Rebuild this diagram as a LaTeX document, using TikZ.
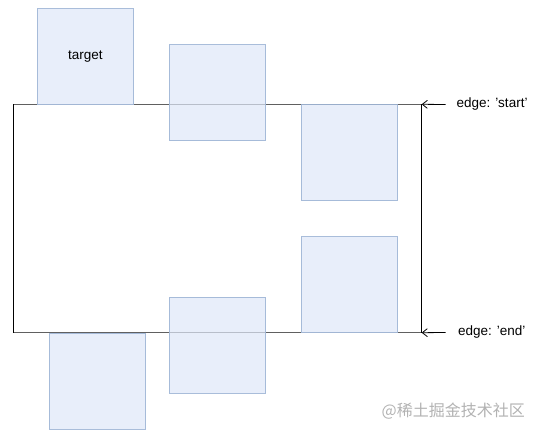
\documentclass[tikz,border=0pt]{standalone}
\usepackage{fontspec}
\setmainfont{Liberation Sans}
\newfontfamily\cjk{Noto Sans CJK SC}
\usetikzlibrary{arrows.meta}
\definecolor{boxfill}{RGB}{222,231,248}
\definecolor{boxline}{RGB}{160,182,214}
\definecolor{edgegray}{RGB}{96,96,96}
\tikzset{
  itembox/.style={draw=boxline, fill=boxfill, fill opacity=0.7, draw opacity=0.9, text opacity=1,
    minimum width=96.5pt, minimum height=96pt, inner sep=0pt, line width=0.8pt, font=\fontsize{13.5}{16}\selectfont},
  lbl/.style={anchor=west, inner sep=0pt, font=\fontsize{13.5}{16}\selectfont},
  ptr/.style={-{Straight Barb[length=5pt,width=8pt]}, line width=0.8pt}
}
\begin{document}
\begin{tikzpicture}[x=1pt,y=-1pt]
\useasboundingbox (0,0) rectangle (540,435);
% container
\node[minimum width=408pt, minimum height=228pt, inner sep=0pt] (cont) at (217.5,218.5) {};
\draw[line width=1.3pt, edgegray] (cont.north west) -- (cont.north east);
\draw[line width=1.3pt, edgegray] (cont.south west) -- (cont.south east);
\draw[line width=1pt, black] (cont.north west) -- (cont.south west);
\draw[line width=1pt, black] (cont.north east) -- (cont.south east);
% boxes
\node[itembox] (target) at (85.3,56.8) {target};
\node[itembox] (b2) at (217.5,92.8) {};
\node[itembox] (b3) at (349.4,152.8) {};
\node[itembox] (b4) at (349.4,284.7) {};
\node[itembox] (b5) at (97.5,380.9) {};
\node[itembox] (b6) at (217.5,344.9) {};
% labels
\node[lbl] (ls) at (456.5,104.5) {edge: 'start'};
\node[lbl] (le) at (458,332.5) {edge: 'end'};
\coordinate (as) at (445.5,104.5);
\coordinate (ae) at (445.5,332.5);
\draw[ptr] (as) -- (cont.north east);
\draw[ptr] (ae) -- (cont.south east);
% watermark
\node[anchor=east, inner sep=0pt, text=gray!60, font=\cjk\fontsize{16}{18}\selectfont] (wm) at (525,411) {@稀土掘金技术社区};
\end{tikzpicture}
\end{document}
